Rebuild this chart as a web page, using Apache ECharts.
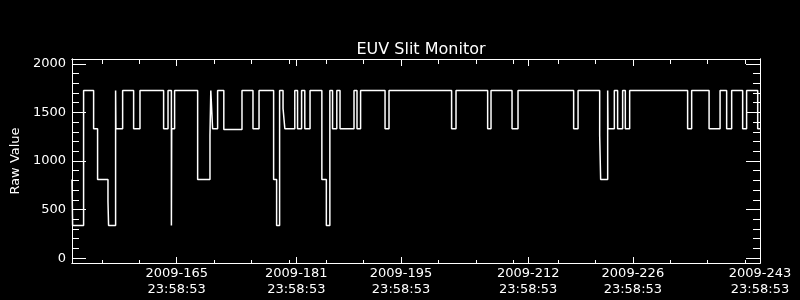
<!DOCTYPE html>
<html>
<head>
<meta charset="utf-8">
<script src="https://cdn.jsdelivr.net/npm/echarts@6/dist/echarts.min.js"></script>
<style>
html,body{margin:0;padding:0;background:#000;}
#chart{width:800px;height:300px;}
</style>
</head>
<body>
<div id="chart"></div>
<script>
// Day-of-year (2009, fractional) at which each level begins
var times = [151.999, 152.08, 153.55, 154.89, 155.42, 156.81, 156.89, 157.83, 157.87, 158.77,
  160.24, 161.09, 164.25, 164.84, 165.29, 165.33, 165.72, 168.80, 170.45, 170.56,
  170.80, 171.47, 172.30, 174.73, 176.20, 177.01, 178.96, 179.36, 179.76, 180.22,
  180.46, 181.79, 182.16, 182.70, 183.13, 183.83, 185.41, 186.01, 186.48, 186.84,
  187.41, 187.84, 189.71, 190.11, 190.59, 193.86, 194.39, 202.76, 203.35, 207.58,
  208.03, 210.84, 211.64, 219.08, 219.67, 222.56, 222.69, 223.63, 223.67, 224.52,
  224.96, 225.63, 225.99, 226.57, 234.32, 234.86, 237.19, 238.66, 239.54, 240.21,
  241.68, 242.21, 243.69, 243.999];
var values = [810, 336, 1725, 1333, 810, 583, 336, 1725, 1333, 1725,
  1333, 1725, 1333, 1725, 336, 1333, 1725, 810, 1264, 1725,
  1333, 1725, 1325, 1725, 1333, 1725, 810, 336, 1725, 1540,
  1333, 1725, 1333, 1725, 1333, 1725, 810, 336, 1725, 1333,
  1725, 1333, 1725, 1333, 1725, 1333, 1725, 1333, 1725, 1333,
  1725, 1333, 1725, 1333, 1725, 1264, 810, 1725, 1333, 1725,
  1333, 1725, 1333, 1725, 1333, 1725, 1333, 1725, 1333, 1725,
  1333, 1725, 1333, 1333];

var majorDays = [165, 181, 195, 212, 226, 243];
var labelTime = '23:58:53';
var minorDays = [156, 161, 171, 176, 181, 186, 191, 201, 206, 211, 217, 222, 232, 237, 242];
var yMajor = [0, 500, 1000, 1500, 2000];
var yMinor = [100, 200, 300, 400, 600, 700, 800, 900, 1100, 1200, 1300, 1400, 1600, 1700, 1800, 1900];
var titleText = 'EUV Slit Monitor';
var yName = 'Raw Value';

var frac = (23 * 3600 + 58 * 60 + 53) / 86400;
var xMin = 151 + frac, xMax = 243 + frac;
var majorVals = majorDays.map(function (d) { return d + frac; });
var yMin = -50, yMax = 2050;
var FONT = 'DejaVu Sans';

var data = times.map(function (t, i) { return [t, values[i]]; });

function xAx(pos, vals, len, showLabel) {
  return {
    type: 'value', position: pos, min: xMin, max: xMax,
    axisLine: { show: true, onZero: false, lineStyle: { color: '#fff', width: 1 } },
    axisTick: { show: true, inside: true, length: len, customValues: vals, lineStyle: { color: '#fff', width: 1 } },
    axisLabel: showLabel ? {
      show: true, customValues: vals, color: '#fff', fontFamily: FONT, fontSize: 13,
      lineHeight: 16, margin: 3,
      formatter: function (v) { return '2009-' + Math.floor(v + 1e-6) + '\n' + labelTime; }
    } : { show: false },
    splitLine: { show: false }
  };
}
function yAx(pos, vals, len, showLabel) {
  var a = {
    type: 'value', position: pos, min: yMin, max: yMax,
    axisLine: { show: true, onZero: false, lineStyle: { color: '#fff', width: 1 } },
    axisTick: { show: true, inside: true, length: len, customValues: vals, lineStyle: { color: '#fff', width: 1 } },
    axisLabel: showLabel ? {
      show: true, customValues: vals, color: '#fff', fontFamily: FONT, fontSize: 13, margin: 6,
      formatter: function (v) { return String(Math.round(v)); }
    } : { show: false },
    splitLine: { show: false }
  };
  if (showLabel) {
    a.name = yName;
    a.nameLocation = 'middle';
    a.nameGap = 47;
    a.nameTextStyle = { color: '#fff', fontFamily: FONT, fontSize: 13 };
  }
  return a;
}

var chart = echarts.init(document.getElementById('chart'), null, { renderer: 'canvas' });
chart.setOption({
  backgroundColor: '#000',
  animation: false,
  title: {
    text: titleText, left: 416, top: 37, textAlign: 'center',
    textStyle: { color: '#fff', fontFamily: FONT, fontSize: 16, fontWeight: 'normal' }
  },
  grid: { left: 72, right: 40, top: 59, bottom: 37, containLabel: false },
  xAxis: [
    xAx('bottom', majorVals, 6, true),
    xAx('bottom', minorDays, 3, false),
    xAx('top', majorVals, 7, false),
    xAx('top', minorDays, 5, false)
  ],
  yAxis: [
    yAx('left', yMajor, 14, true),
    yAx('left', yMinor, 7, false),
    yAx('right', yMajor, 14, false),
    yAx('right', yMinor, 7, false)
  ],
  series: [{
    type: 'line', xAxisIndex: 0, yAxisIndex: 0, data: data, step: 'end',
    showSymbol: false, symbol: 'none',
    lineStyle: { color: '#fff', width: 1.5 }
  }]
});
</script>
</body>
</html>
